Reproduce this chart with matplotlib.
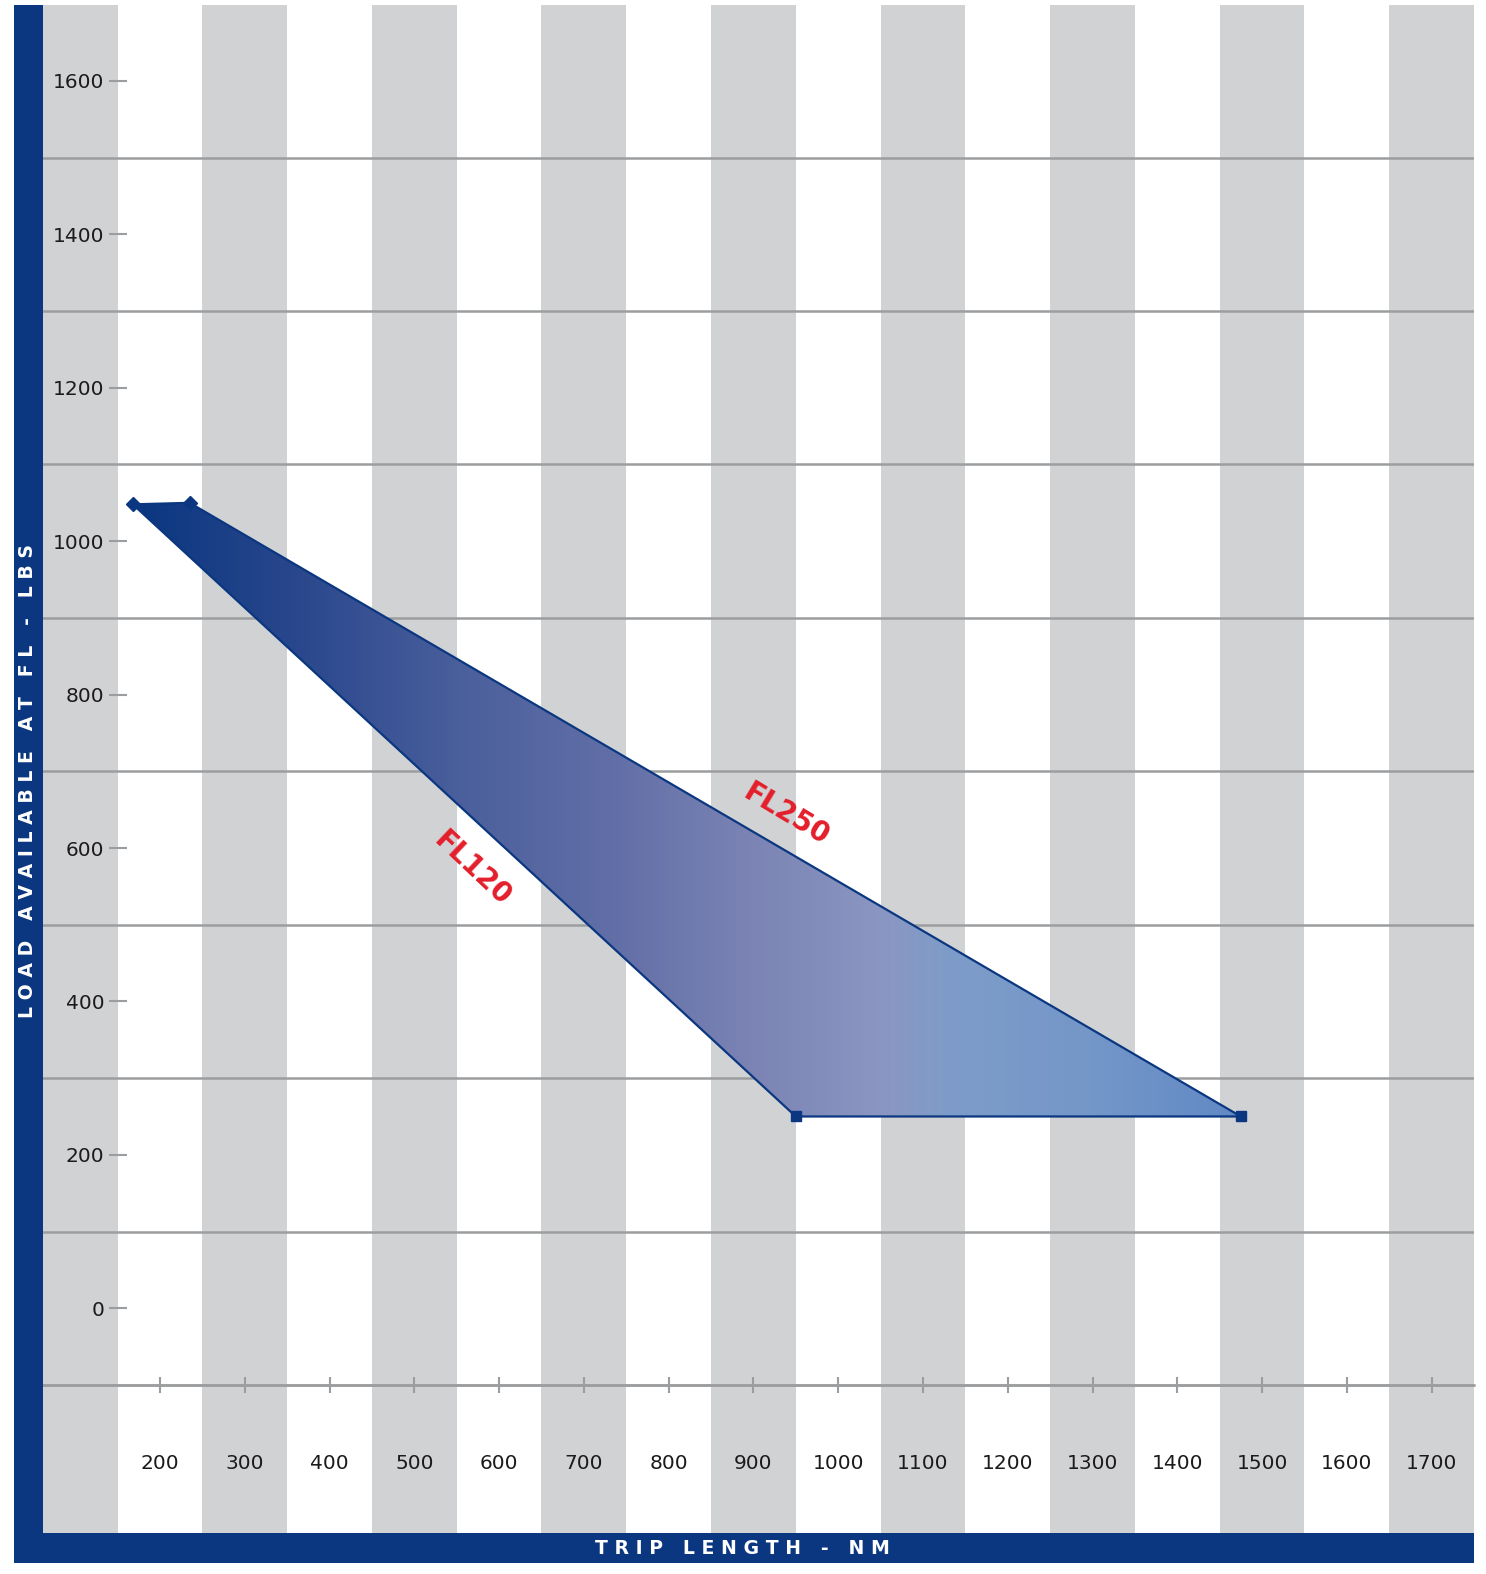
import numpy as np
import matplotlib
matplotlib.use('Agg')
import matplotlib.pyplot as plt
from matplotlib.patches import Polygon, Rectangle
from matplotlib.colors import LinearSegmentedColormap
from matplotlib.ticker import FixedLocator

# envelope corners (trip length nm, load lbs)
fl120_trip = [168, 950]
fl120_load = [1048, 250]
fl250_trip = [235, 1475]
fl250_load = [1050, 250]

x_ticks = list(range(200, 1800, 100))
y_ticks = list(range(0, 1700, 200))
grid_y = list(range(-100, 1600, 200))

NAVY = '#0a3780'
STRIPE = '#d1d2d4'
GRID = '#9c9d9f'
TXT = '#1d1a1b'
RED = '#e41e2b'

W, H = 1486, 1574
fig = plt.figure(figsize=(W / 100, H / 100), dpi=100)
ax = fig.add_axes([43 / W, 1 - 1533 / H, (1474 - 43) / W, (1533 - 5) / H])
ax.set_xlim(62, 1750)
ax.set_ylim(-293, 1699)

# grey / white columns centred on the x ticks
for c in range(100, 1800, 200):
    ax.axvspan(c - 50, c + 50, color=STRIPE, lw=0, zorder=0)

ax.set_axisbelow(True)
ax.yaxis.set_minor_locator(FixedLocator(grid_y))
ax.grid(which='minor', axis='y', color=GRID, lw=1.8)
ax.tick_params(axis='y', which='minor', length=0)

# envelope polygon with horizontal gradient
verts = [(fl120_trip[0], fl120_load[0]), (fl250_trip[0], fl250_load[0]),
         (fl250_trip[1], fl250_load[1]), (fl120_trip[1], fl120_load[1])]
x0, x1 = min(fl120_trip + fl250_trip), max(fl120_trip + fl250_trip)
y0, y1 = min(fl120_load + fl250_load), max(fl120_load + fl250_load)

stops = [(168, '#0a3780'), (350, '#28468c'), (550, '#4a5f9c'), (750, '#6470a8'),
         (900, '#7b84b4'), (1050, '#8b96c2'), (1130, '#7e9cc8'), (1300, '#7497c9'),
         (1475, '#6289c5')]
cmap = LinearSegmentedColormap.from_list(
    'env', [((s - x0) / (x1 - x0), c) for s, c in stops])

poly = Polygon(verts, closed=True, facecolor='none', edgecolor=NAVY, lw=1.6, zorder=3)
ax.add_patch(poly)
grad = np.linspace(0, 1, 600)[None, :]
img = ax.imshow(grad, extent=(x0, x1, y0, y1), cmap=cmap, aspect='auto',
                origin='lower', zorder=2)
img.set_clip_path(poly)

ax.plot(fl120_trip[:1] + fl250_trip[:1], fl120_load[:1] + fl250_load[:1],
        'D', color=NAVY, ms=7, zorder=4, ls='none')
ax.plot(fl120_trip[1:] + fl250_trip[1:], fl120_load[1:] + fl250_load[1:],
        's', color=NAVY, ms=7, zorder=4, ls='none')

ax.text(939, 643, 'FL250', rotation=-31, rotation_mode='anchor', ha='center',
        va='center', color=RED, fontsize=20, fontweight='bold')
ax.text(568, 573, 'FL120', rotation=-43.5, rotation_mode='anchor', ha='center',
        va='center', color=RED, fontsize=20, fontweight='bold')

# axes
ax.set_yticks(y_ticks)
ax.spines['left'].set_position(('data', 161))
ax.spines['left'].set_visible(False)
ax.spines['right'].set_visible(False)
ax.spines['top'].set_visible(False)
ax.tick_params(axis='y', which='major', direction='out', length=13, width=1.5,
               color=GRID, pad=3.4, labelsize=14.5, labelcolor=TXT)

ax.set_xticks(x_ticks)
ax.spines['bottom'].set_position(('data', -100))
ax.spines['bottom'].set_color(GRID)
ax.spines['bottom'].set_linewidth(1.8)
ax.tick_params(axis='x', direction='inout', length=12, width=1.5, color=GRID,
               pad=44, labelsize=14.5, labelcolor=TXT)

# navy frame bars with axis titles
fig.add_artist(Rectangle((14 / W, 1 - 1563 / H), (43 - 14) / W, (1563 - 5) / H,
                         transform=fig.transFigure, color=NAVY, lw=0))
fig.add_artist(Rectangle((14 / W, 1 - 1563 / H), (1474 - 14) / W, 30 / H,
                         transform=fig.transFigure, color=NAVY, lw=0))
fig.text(28 / W, 1 - 781 / H, 'L O A D   A V A I L A B L E   A T   F L   -   L B S',
         rotation=90, ha='center', va='center', color='white', fontsize=13.6,
         fontweight='bold')
fig.text(742 / W, 1 - 1548 / H, 'T R I P   L E N G T H   -   N M',
         ha='center', va='center', color='white', fontsize=13.6, fontweight='bold')

fig.savefig('out.png', dpi=100)
